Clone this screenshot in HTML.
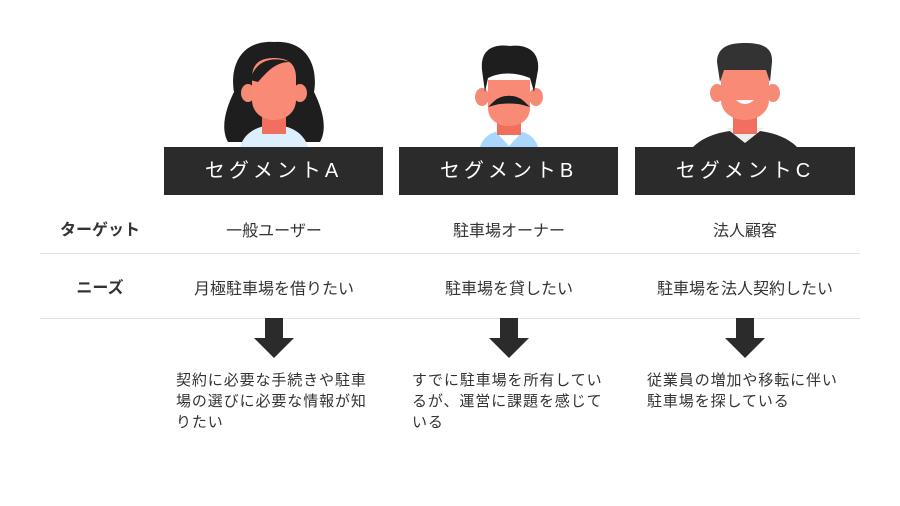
<!DOCTYPE html>
<html><head><meta charset="utf-8"><style>
body{margin:0;width:900px;height:506px;background:#fff;position:relative;overflow:hidden;font-family:"Liberation Sans","Noto Sans CJK JP",sans-serif;color:#333}
.a{position:absolute}
.box{position:absolute;top:147px;height:48px;background:#2b2b2b;color:#fff;font-size:20px;line-height:48px;text-align:center;letter-spacing:4px}
.c{position:absolute;text-align:center;font-size:16px;width:220px}
.lbl{position:absolute;left:40px;width:120px;text-align:center;font-weight:bold;font-size:16px}
.hr{position:absolute;left:40px;width:820px;height:1px;background:#e2e2e2}
.d{position:absolute;font-size:15px;line-height:21px;width:194px;letter-spacing:0.9px}
</style></head><body>
<svg class="a" style="left:0;top:0" width="900" height="150">
<path d="M274 42 C238 40 230 70 234 92 C226 108 220 128 228 142 L320 142 C328 128 322 108 314 92 C318 70 310 40 274 42Z" fill="#1e1e1e"/>
<path d="M240 147 C245 130 262 125 274 125 C286 125 303 130 308 147Z" fill="#dcefff"/>
<rect x="262" y="112" width="24" height="22" fill="#f06f5e"/>
<ellipse cx="248" cy="93" rx="7" ry="9" fill="#f58a75"/><ellipse cx="300" cy="93" rx="7" ry="9" fill="#f58a75"/>
<path d="M252 78 C252 62 262 58 274 58 C286 58 296 62 296 78 L296 100 C296 112 286 120 274 120 C262 120 252 112 252 100Z" fill="#f98b76"/>
<path d="M250 80 C255 62 270 55 290 62 C278 62 270 68 258 82Z" fill="#1e1e1e"/>
<path d="M480 147 C484 134 496 130 509 130 C522 130 534 134 538 147Z" fill="#a9d6ff"/>
<path d="M496 132 L509 146 L522 132Z" fill="#fff"/>
<rect x="497" y="115" width="24" height="20" fill="#f06f5e"/>
<ellipse cx="482" cy="97" rx="7" ry="9" fill="#f58a75"/><ellipse cx="536" cy="97" rx="7" ry="9" fill="#f58a75"/>
<path d="M488 80 L530 80 L530 108 C530 120 520 126 509 126 C498 126 488 120 488 108Z" fill="#f98b76"/>
<path d="M482 70 C480 48 495 44 510 46 C525 44 540 50 538 70 L534 92 L530 78 C515 72 500 72 488 78 L485 92Z" fill="#1e1e1e"/>
<path d="M495 103 C502 96 516 96 523 103 C516 101 502 101 495 103Z" stroke="#1e1e1e" stroke-width="4" fill="none"/>
<path d="M693 147 C705 135 725 130 745 130 C765 130 785 135 797 147Z" fill="#2b2b2b"/>
<path d="M726 128 L745 143 L764 128Z" fill="#eee"/>
<rect x="733" y="112" width="24" height="22" fill="#f06f5e"/>
<ellipse cx="717" cy="93" rx="7" ry="9" fill="#f58a75"/><ellipse cx="773" cy="93" rx="7" ry="9" fill="#f58a75"/>
<path d="M721 70 L769 70 L769 100 C769 112 758 120 745 120 C732 120 721 112 721 100Z" fill="#f98b76"/>
<path d="M717 62 C717 44 735 43 745 43 C760 43 773 46 772 62 L770 82 L766 70 L724 70 L720 82Z" fill="#333"/>
<path d="M736 100 Q745 108 754 100Z" fill="#fff"/>
</svg>
<div class="box" style="left:164px;width:219px">セグメントA</div>
<div class="box" style="left:399px;width:219px">セグメントB</div>
<div class="box" style="left:635px;width:220px">セグメントC</div>
<div class="lbl" style="top:216px">ターゲット</div>
<div class="lbl" style="top:274px">ニーズ</div>
<div class="c" style="left:164px;top:217px">一般ユーザー</div>
<div class="c" style="left:399px;top:217px">駐車場オーナー</div>
<div class="c" style="left:635px;top:217px">法人顧客</div>
<div class="c" style="left:164px;top:275px">月極駐車場を借りたい</div>
<div class="c" style="left:399px;top:275px">駐車場を貸したい</div>
<div class="c" style="left:635px;top:275px">駐車場を法人契約したい</div>
<div class="hr" style="top:253px"></div>
<div class="hr" style="top:318px"></div>
<svg class="a" style="left:0;top:318px" width="900" height="42">
<path d="M265 0h18v20h11l-20 20l-20-20h11z" fill="#2b2b2b"/>
<path d="M500 0h18v20h11l-20 20l-20-20h11z" fill="#2b2b2b"/>
<path d="M736 0h18v20h11l-20 20l-20-20h11z" fill="#2b2b2b"/>
</svg>
<div class="d" style="left:176px;top:370px">契約に必要な手続きや駐車場の選びに必要な情報が知りたい</div>
<div class="d" style="left:412px;top:370px">すでに駐車場を所有しているが、運営に課題を感じている</div>
<div class="d" style="left:647px;top:370px">従業員の増加や移転に伴い駐車場を探している</div>
</body></html>
